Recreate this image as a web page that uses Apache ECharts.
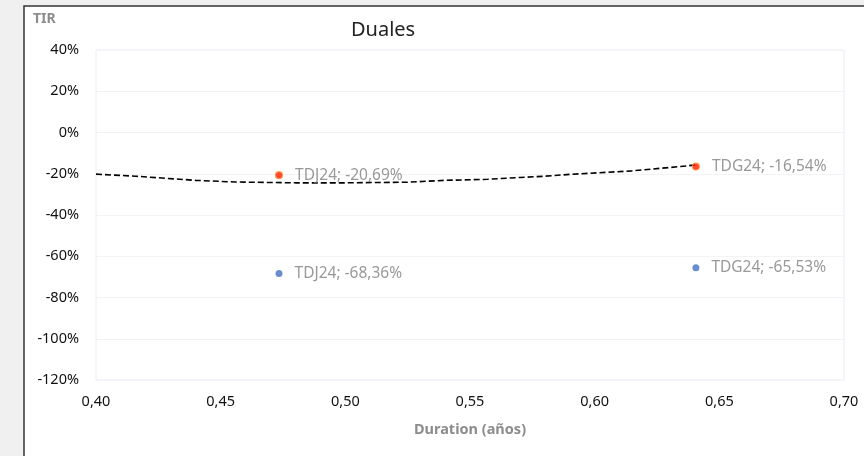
<!DOCTYPE html>
<html>
<head>
<meta charset="utf-8">
<script src="https://cdn.jsdelivr.net/npm/echarts@6/dist/echarts.min.js"></script>
<style>
html,body{margin:0;padding:0;background:#f0f0f0;}
#c{width:864px;height:456px;}
</style>
</head>
<body>
<div id="c"></div>
<script>
const names = ['TDJ24', 'TDG24'];
const duration = [0.4734, 0.6406];
const tirRed = [-20.69, -16.54];
const tirBlue = [-68.36, -65.53];
const trendX = [0.40, 0.416, 0.428, 0.44, 0.456, 0.48, 0.50, 0.525, 0.54, 0.557, 0.57, 0.58, 0.59, 0.605, 0.615, 0.627, 0.637, 0.641];
const trendY = [-20.2, -21.2, -22.2, -23.2, -24.0, -24.4, -24.4, -24.1, -23.2, -22.7, -21.8, -21.2, -20.3, -19.3, -18.6, -17.3, -16.2, -15.6];
const xTicks = [0.40, 0.45, 0.50, 0.55, 0.60, 0.65, 0.70];
const yTicks = [40, 20, 0, -20, -40, -60, -80, -100, -120];

const fmt = v => v.toFixed(2).replace('.', ',');
const lab = (n, v) => n + '; ' + v.toFixed(2).replace('.', ',') + '%';

const chart = echarts.init(document.getElementById('c'));
const font = '"Noto Sans", "Open Sans", sans-serif';
chart.setOption({
  animation: false,
  textStyle: {fontFamily: font},
  graphic: [{
    type: 'rect', z: -10, silent: true,
    shape: {x: 24, y: 6, width: 860, height: 470},
    style: {fill: '#ffffff', stroke: '#333333', lineWidth: 1.5}
  }, {
    type: 'text', left: 33, top: 12,
    style: {text: 'TIR', fill: '#8c8c8c', fontFamily: 'Noto Sans', fontSize: 14, fontWeight: 'bold'}
  }],
  title: {
    text: 'Duales', left: 346, top: 15,
    textStyle: {fontFamily: font, fontSize: 20, fontWeight: 'normal', color: '#222', letterSpacing: 3}
  },
  grid: {left: 96, right: 20, top: 50, bottom: 76, show: true, borderColor: '#e8ecf6', borderWidth: 1},
  xAxis: {
    type: 'value', min: 0.40, max: 0.70, interval: 0.05,
    name: 'Duration (años)', nameLocation: 'middle', nameGap: 42,
    nameTextStyle: {color: '#8c8c8c', fontWeight: 'bold', fontSize: 14.5, fontFamily: font},
    axisLine: {show: false}, axisTick: {show: false},
    splitLine: {show: false},
    axisLabel: {color: '#111', fontSize: 14.5, margin: 14, formatter: v => fmt(v)}
  },
  yAxis: {
    type: 'value', min: -120, max: 40, interval: 20,
    axisLine: {show: false}, axisTick: {show: false},
    splitLine: {show: true, lineStyle: {color: '#f2f3f7', width: 1}},
    axisLabel: {color: '#111', fontSize: 14.5, margin: 17, formatter: v => v + '%'}
  },
  series: [{
    type: 'line', data: trendX.map((x, i) => [x, trendY[i]]),
    symbol: 'none', smooth: false, z: 3,
    lineStyle: {color: '#000', width: 1.6, type: [6, 3]}
  }, {
    type: 'scatter', z: 5,
    data: duration.map((x, i) => ({value: [x, tirRed[i]], name: names[i]})),
    symbolSize: 7,
    itemStyle: {color: '#ff1a00', borderColor: '#ff9a3c', borderWidth: 1.2},
    label: {show: true, position: 'right', distance: 12, color: '#808080', fontSize: 15.5,
      formatter: p => lab(p.name, p.value[1])}
  }, {
    type: 'scatter', z: 5,
    data: duration.map((x, i) => ({value: [x, tirBlue[i]], name: names[i]})),
    symbolSize: 7,
    itemStyle: {color: '#4472c4'},
    label: {show: true, position: 'right', distance: 12, color: '#808080', fontSize: 15.5,
      formatter: p => lab(p.name, p.value[1])}
  }]
});
</script>
</body>
</html>
